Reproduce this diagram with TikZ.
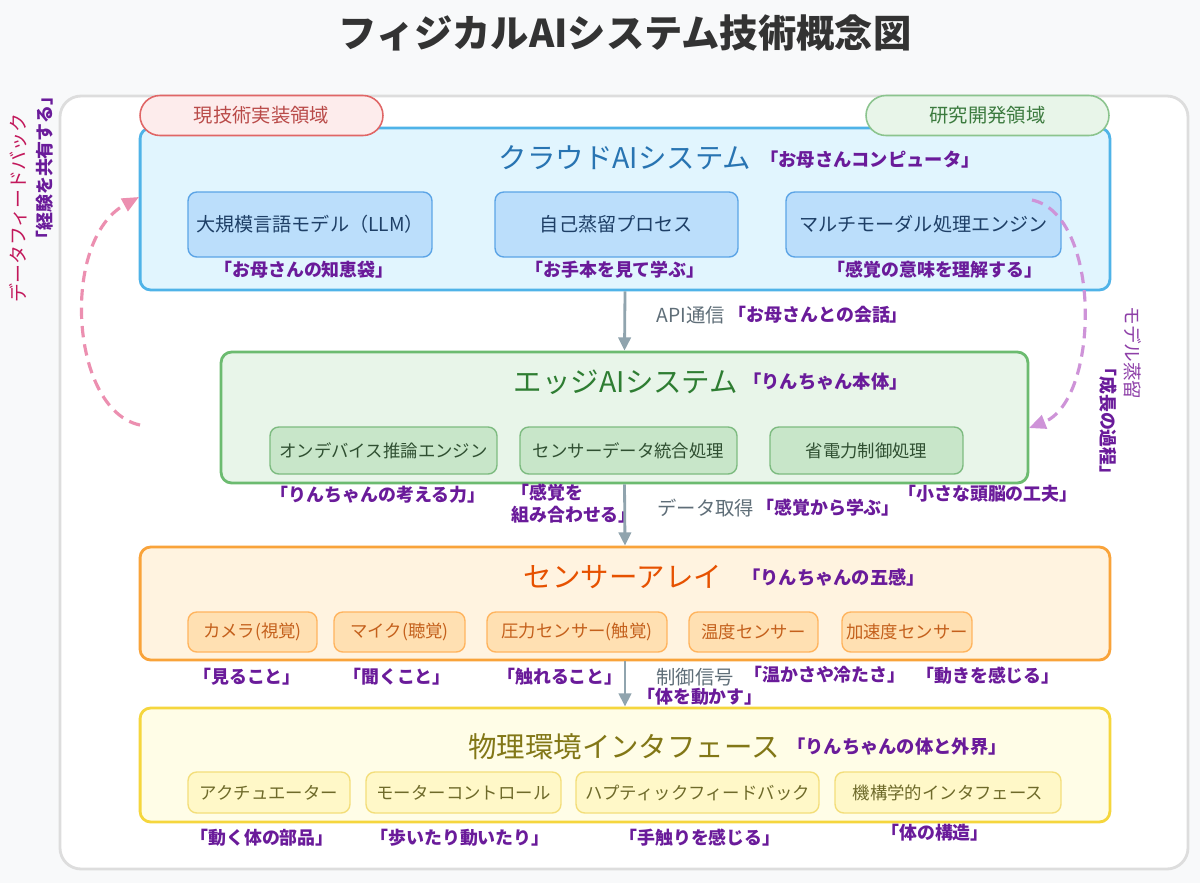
\documentclass[tikz,border=0pt]{standalone}
\usepackage{fontspec}
\setmainfont{Noto Sans CJK JP}
\usetikzlibrary{arrows.meta,positioning}

\definecolor{pagebg}{HTML}{F8F9FA}
\definecolor{panelline}{HTML}{DDDDDD}
\definecolor{titlegray}{HTML}{333333}
\definecolor{redtagbg}{HTML}{FDECEC}
\definecolor{redtagline}{HTML}{E06666}
\definecolor{redtagtext}{HTML}{B94A48}
\definecolor{greentagbg}{HTML}{E8F5E9}
\definecolor{greentagline}{HTML}{8BC48E}
\definecolor{greentagtext}{HTML}{3B7A3E}
\definecolor{cloudbg}{HTML}{E1F5FE}
\definecolor{cloudline}{HTML}{4FB3E8}
\definecolor{cloudhead}{HTML}{2874B2}
\definecolor{cloudsub}{HTML}{BBDEFB}
\definecolor{cloudsubline}{HTML}{5BA4E6}
\definecolor{cloudsubtext}{HTML}{1E3F66}
\definecolor{edgebg}{HTML}{E8F5E9}
\definecolor{edgeline}{HTML}{6CBB70}
\definecolor{edgehead}{HTML}{2E7D32}
\definecolor{edgesub}{HTML}{C8E6C9}
\definecolor{edgesubline}{HTML}{7DBB80}
\definecolor{edgesubtext}{HTML}{2F4F31}
\definecolor{sensorbg}{HTML}{FFF3E0}
\definecolor{sensorline}{HTML}{F9A33A}
\definecolor{sensorhead}{HTML}{E65100}
\definecolor{sensorsub}{HTML}{FFE0B2}
\definecolor{sensorsubline}{HTML}{FFB45E}
\definecolor{sensorsubtext}{HTML}{C4601C}
\definecolor{physbg}{HTML}{FFFDE7}
\definecolor{physline}{HTML}{F5D63D}
\definecolor{physhead}{HTML}{827717}
\definecolor{physsub}{HTML}{FFF8C8}
\definecolor{physsubline}{HTML}{F3DE7A}
\definecolor{physsubtext}{HTML}{6E6A2A}
\definecolor{nickpurple}{HTML}{6A1B9A}
\definecolor{flowgray}{HTML}{90A4AE}
\definecolor{flowtext}{HTML}{5F6E78}
\definecolor{fbline}{HTML}{EC8FB0}
\definecolor{fbtext}{HTML}{C2185B}
\definecolor{distline}{HTML}{CE93D8}
\definecolor{disttext}{HTML}{8E3FA8}

\begin{document}
\begin{tikzpicture}[x=0.02cm, y=-0.02cm,
    layer/.style = {draw, line width=1.6pt, rounded corners=6pt, minimum width=19.4cm},
    part/.style = {draw, line width=0.8pt, rounded corners=5pt, inner sep=0pt,
                   font=\fontsize{9.9pt}{12pt}\selectfont},
    tag/.style = {draw, line width=0.9pt, rounded corners=0.4cm, minimum width=4.86cm,
                  minimum height=0.8cm, font=\fontsize{11pt}{13pt}\selectfont},
    head/.style = {inner sep=0pt, font=\fontsize{16.2pt}{18pt}\selectfont},
    bignick/.style = {inner sep=0pt, anchor=west, text=nickpurple,
                      font=\fontsize{10.4pt}{13pt}\selectfont\bfseries},
    nick/.style = {inner sep=0pt, text=nickpurple,
                   font=\fontsize{10.2pt}{12.5pt}\selectfont\bfseries},
    flowlabel/.style = {inner sep=0pt, anchor=west, text=flowtext,
                        font=\fontsize{11pt}{13pt}\selectfont},
    flow/.style = {draw=flowgray, line width=1.6pt, -{Triangle[length=7.5pt,width=7pt]}},
    loopline/.style = {line width=1.8pt, dash pattern=on 6.5pt off 4pt,
                       -{Triangle[length=9.5pt,width=8pt]}}
  ]
  \fill[pagebg] (0,0) rectangle (1200,883);
  \useasboundingbox (0,0) rectangle (1200,883);

  % title
  \node[text=titlegray, font=\fontsize{21.8pt}{24pt}\selectfont\bfseries] (title) at (625,33)
    {フィジカルAIシステム技術概念図};

  % panel
  \draw[draw=panelline, fill=white, line width=1.6pt, rounded corners=12pt] (60,96) rectangle (1188,869);

  % cloud layer
  \node[layer, draw=cloudline, fill=cloudbg, minimum height=3.24cm] (cloud) at (625,209) {};
  \node[head, text=cloudhead] (cloudtitle) at (625,158) {クラウドAIシステム};
  \node[bignick] (cloudnick) at (760,160) {「お母さんコンピュータ」};
  \node[part, draw=cloudsubline, fill=cloudsub, text=cloudsubtext, minimum width=4.88cm,
        minimum height=1.3cm, font=\fontsize{10.9pt}{13pt}\selectfont] (llm) at (310,224.5)
    {大規模言語モデル（LLM）};
  \node[part, draw=cloudsubline, fill=cloudsub, text=cloudsubtext, minimum width=4.86cm,
        minimum height=1.3cm, font=\fontsize{10.9pt}{13pt}\selectfont] (selfdist) at (616.5,224.5)
    {自己蒸留プロセス};
  \node[part, draw=cloudsubline, fill=cloudsub, text=cloudsubtext, minimum width=5.5cm,
        minimum height=1.3cm, font=\fontsize{10.9pt}{13pt}\selectfont] (multimodal) at (923.5,224.5)
    {マルチモーダル処理エンジン};
  \node[nick] (llmnick) at (304,270) {「お母さんの知恵袋」};
  \node[nick] (selfdistnick) at (615,270) {「お手本を見て学ぶ」};
  \node[nick] (multimodalnick) at (935,270) {「感覚の意味を理解する」};

  % area tags
  \node[tag, draw=redtagline, fill=redtagbg, text=redtagtext] (nowtag) at (261.5,115.5) {現技術実装領域};
  \node[tag, draw=greentagline, fill=greentagbg, text=greentagtext] (labtag) at (987.5,115.5) {研究開発領域};

  % edge layer
  \node[layer, draw=edgeline, fill=edgebg, minimum width=16.14cm, minimum height=2.62cm] (edge) at (624.5,417.5) {};
  \node[head, text=edgehead] (edgetitle) at (626,382) {エッジAIシステム};
  \node[bignick] (edgenick) at (743,382) {「りんちゃん本体」};
  \node[part, draw=edgesubline, fill=edgesub, text=edgesubtext, minimum width=4.54cm,
        minimum height=0.94cm] (infer) at (383.5,450.5) {オンデバイス推論エンジン};
  \node[part, draw=edgesubline, fill=edgesub, text=edgesubtext, minimum width=4.34cm,
        minimum height=0.94cm] (fusion) at (628.5,450.5) {センサーデータ統合処理};
  \node[part, draw=edgesubline, fill=edgesub, text=edgesubtext, minimum width=3.86cm,
        minimum height=0.94cm] (power) at (866.5,450.5) {省電力制御処理};
  \node[nick] (infernick) at (378,495) {「りんちゃんの考える力」};
  \node[nick, anchor=west, align=left] (fusionnick) at (511,504) {「感覚を\\組み合わせる」};
  \node[nick] (powernick) at (988,494) {「小さな頭脳の工夫」};

  % sensor layer
  \node[layer, draw=sensorline, fill=sensorbg, minimum height=2.26cm] (sensor) at (625,603.5) {};
  \node[head, text=sensorhead] (sensortitle) at (623,577) {センサーアレイ};
  \node[bignick] (sensornick) at (742,577) {「りんちゃんの五感」};
  \node[part, draw=sensorsubline, fill=sensorsub, text=sensorsubtext, minimum width=2.58cm,
        minimum height=0.8cm] (camera) at (252.5,632) {カメラ(視覚)};
  \node[part, draw=sensorsubline, fill=sensorsub, text=sensorsubtext, minimum width=2.62cm,
        minimum height=0.8cm] (mic) at (399.5,632) {マイク(聴覚)};
  \node[part, draw=sensorsubline, fill=sensorsub, text=sensorsubtext, minimum width=3.6cm,
        minimum height=0.8cm] (pressure) at (577,632) {圧力センサー(触覚)};
  \node[part, draw=sensorsubline, fill=sensorsub, text=sensorsubtext, minimum width=2.58cm,
        minimum height=0.8cm] (thermo) at (753.5,632) {温度センサー};
  \node[part, draw=sensorsubline, fill=sensorsub, text=sensorsubtext, minimum width=2.6cm,
        minimum height=0.8cm] (accel) at (907,632) {加速度センサー};
  \node[nick] (cameranick) at (247,677) {「見ること」};
  \node[nick] (micnick) at (397,677) {「聞くこと」};
  \node[nick] (pressurenick) at (560,677) {「触れること」};
  \node[nick] (thermonick) at (825,675) {「温かさや冷たさ」};
  \node[nick] (accelnick) at (988,676) {「動きを感じる」};

  % physical layer
  \node[layer, draw=physline, fill=physbg, minimum height=2.28cm] (phys) at (625,765) {};
  \node[head, text=physhead] (physttitle) at (624,747) {物理環境インタフェース};
  \node[bignick] (physnick) at (787,747) {「りんちゃんの体と外界」};
  \node[part, draw=physsubline, fill=physsub, text=physsubtext, minimum width=3.24cm,
        minimum height=0.82cm] (actuator) at (269,792.5) {アクチュエーター};
  \node[part, draw=physsubline, fill=physsub, text=physsubtext, minimum width=3.9cm,
        minimum height=0.82cm] (motor) at (463.5,792.5) {モーターコントロール};
  \node[part, draw=physsubline, fill=physsub, text=physsubtext, minimum width=4.86cm,
        minimum height=0.82cm] (haptic) at (697.5,792.5) {ハプティックフィードバック};
  \node[part, draw=physsubline, fill=physsub, text=physsubtext, minimum width=4.52cm,
        minimum height=0.82cm] (mech) at (948,792.5) {機構学的インタフェース};
  \node[nick] (actuatornick) at (262,838) {「動く体の部品」};
  \node[nick] (motornick) at (460,838) {「歩いたり動いたり」};
  \node[nick] (hapticnick) at (700,838) {「手触りを感じる」};
  \node[nick] (mechnick) at (935,833) {「体の構造」};

  % flows between layers
  \draw[flow] (cloud.south) -- (edge.north);
  \draw[flow] (edge.south) -- (sensor.north);
  \draw[flow] (sensor.south) -- (phys.north);
  \node[flowlabel] (apitext) at (656,315) {API通信};
  \node[nick, anchor=west, right=2pt of apitext] (apinick) {「お母さんとの会話」};
  \node[flowlabel] (gettext) at (657,508) {データ取得};
  \node[nick, anchor=west, right=1pt of gettext] (getnick) {「感覚から学ぶ」};
  \node[flowlabel] (ctrltext) at (656,677) {制御信号};
  \node[nick] (ctrlnick) at (700,697) {「体を動かす」};

  % feedback loops
  \coordinate (fbfrom) at (140,425);
  \coordinate (fbto) at (139,197);
  \draw[loopline, draw=fbline] (fbfrom) .. controls (70,410) and (60,240) .. (fbto);
  \node[rotate=90, inner sep=0pt, text=fbtext, font=\fontsize{10.8pt}{13pt}\selectfont] (fbtitle) at (18,208)
    {データフィードバック};
  \node[nick, rotate=90] (fbnick) at (45,168) {「経験を共有する」};

  \coordinate (distfrom) at (1032,200);
  \coordinate (distto) at (1029,428);
  \draw[loopline, draw=distline] (distfrom) .. controls (1102,215) and (1100,400) .. (distto);
  \node[rotate=-90, inner sep=0pt, text=disttext, font=\fontsize{10.6pt}{13pt}\selectfont] (disttitle) at (1133,353)
    {モデル蒸留};
  \node[nick, rotate=-90] (distnick) at (1108,421) {「成長の過程」};
\end{tikzpicture}
\end{document}
